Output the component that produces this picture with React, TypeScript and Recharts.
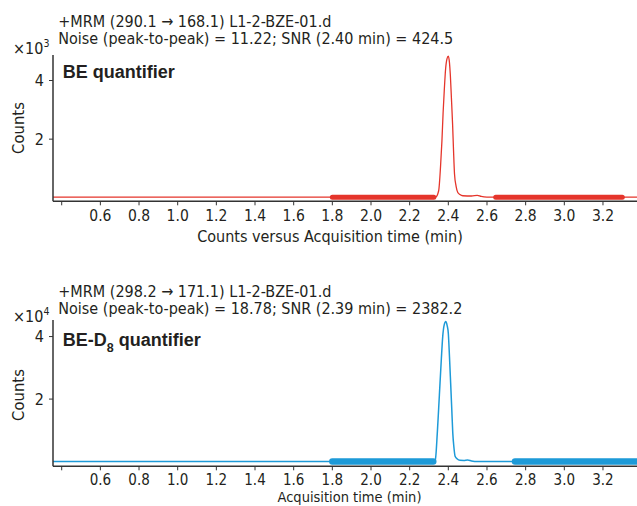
import React from 'react';
import { LineChart, Line, XAxis, YAxis } from 'recharts';

// ---------- data ----------
const xTicks = [0.4, 0.6, 0.8, 1.0, 1.2, 1.4, 1.6, 1.8, 2.0, 2.2, 2.4, 2.6, 2.8, 3.0, 3.2];
const topYTicks = [2000, 4000];
const bottomYTicks = [20000, 40000];

// BE quantifier trace (time min, counts)
const beTrace = [
  { t: 0.355, v: 20 }, { t: 1.0, v: 20 }, { t: 1.8, v: 20 }, { t: 2.3, v: 20 },
  { t: 2.335, v: 30 }, { t: 2.35, v: 240 }, { t: 2.36, v: 1100 }, { t: 2.367, v: 1950 },
  { t: 2.373, v: 2900 }, { t: 2.379, v: 3660 }, { t: 2.386, v: 4400 }, { t: 2.393, v: 4740 },
  { t: 2.4, v: 4830 }, { t: 2.406, v: 4600 }, { t: 2.41, v: 4230 }, { t: 2.416, v: 3400 },
  { t: 2.422, v: 2520 }, { t: 2.427, v: 1600 }, { t: 2.432, v: 810 }, { t: 2.44, v: 400 },
  { t: 2.449, v: 180 }, { t: 2.46, v: 110 }, { t: 2.475, v: 70 }, { t: 2.52, v: 60 },
  { t: 2.55, v: 85 }, { t: 2.57, v: 45 }, { t: 2.6, v: 25 }, { t: 3.0, v: 20 }, { t: 3.376, v: 20 },
];
const beNoiseA = [{ t: 1.8, v: 20 }, { t: 2.325, v: 20 }];
const beNoiseB = [{ t: 2.645, v: 20 }, { t: 3.3, v: 20 }];

// BE-D8 quantifier trace
const d8Trace = [
  { t: 0.355, v: 0 }, { t: 1.0, v: 0 }, { t: 1.8, v: 0 }, { t: 2.3, v: 0 },
  { t: 2.325, v: 100 }, { t: 2.333, v: 700 }, { t: 2.343, v: 9200 }, { t: 2.35, v: 17000 },
  { t: 2.357, v: 25100 }, { t: 2.364, v: 33000 }, { t: 2.371, v: 40000 }, { t: 2.379, v: 43800 },
  { t: 2.387, v: 44800 }, { t: 2.394, v: 43500 }, { t: 2.4, v: 41000 }, { t: 2.406, v: 33500 },
  { t: 2.412, v: 25100 }, { t: 2.418, v: 16500 }, { t: 2.423, v: 9200 }, { t: 2.429, v: 4500 },
  { t: 2.435, v: 1700 }, { t: 2.445, v: 900 }, { t: 2.46, v: 400 }, { t: 2.48, v: 350 },
  { t: 2.5, v: 500 }, { t: 2.52, v: 200 }, { t: 2.55, v: 0 }, { t: 3.0, v: 0 }, { t: 3.376, v: 0 },
];
const d8NoiseA = [{ t: 1.8, v: 0 }, { t: 2.322, v: 0 }];
const d8NoiseB = [{ t: 2.745, v: 0 }, { t: 3.376, v: 0 }];

// ---------- styles ----------
const FONT = '"DejaVu Sans Condensed", "Liberation Sans Narrow", sans-serif';
const BOLD = '"Liberation Sans", Arial, sans-serif';
const TXT = '#231f20';
const AXIS = '#333';
const RED = '#e5352b';
const BLUE = '#1d9ad8';

const xFmt = (v: number) => (Math.abs(v - 0.4) < 1e-6 ? '' : v.toFixed(1));

function Panel(props: {
  top: number; trace: any[]; bandA: any[]; bandB: any[]; color: string; bandWidth: number;
  domain: [number, number]; ticks: number[]; scale: number; lineWidth: number;
  xFont: number; xMargin: number;
}) {
  const { top, trace, bandA, bandB, color, bandWidth, domain, ticks, scale, lineWidth, xFont, xMargin } = props;
  return (
    <div style={{ position: 'absolute', left: 0, top }}>
      <LineChart width={637} height={250} margin={{ top: 55, right: 0, bottom: 0, left: 0 }}>
        <XAxis
          dataKey="t" type="number" domain={[0.355, 3.376]} allowDataOverflow ticks={xTicks}
          interval={0} tickSize={4} tickMargin={xMargin} height={48.7} tickFormatter={xFmt}
          axisLine={{ stroke: AXIS, strokeWidth: 1.5 }} tickLine={{ stroke: AXIS }}
          tick={{ fontSize: xFont, fontFamily: FONT, fill: TXT }}
        />
        <YAxis
          dataKey="v" type="number" domain={domain} allowDataOverflow ticks={ticks} width={53}
          tickSize={4} tickMargin={5} tickFormatter={(v: number) => String(v / scale)}
          axisLine={{ stroke: AXIS, strokeWidth: 1.5 }} tickLine={{ stroke: AXIS }}
          tick={{ fontSize: 16, fontFamily: FONT, fill: TXT }}
        />
        <Line data={trace} dataKey="v" type="monotone" stroke={color} strokeWidth={lineWidth} dot={false} isAnimationActive={false} />
        <Line data={bandA} dataKey="v" type="linear" stroke={color} strokeWidth={bandWidth} strokeLinecap="round" dot={false} isAnimationActive={false} />
        <Line data={bandB} dataKey="v" type="linear" stroke={color} strokeWidth={bandWidth} strokeLinecap="round" dot={false} isAnimationActive={false} />
      </LineChart>
    </div>
  );
}

export default function App() {
  const t = { fontFamily: FONT, fontSize: 16, fill: TXT };
  return (
    <div style={{ position: 'absolute', left: 0, top: 0, width: 637, height: 506, overflow: 'hidden', background: '#fff' }}>
      <Panel top={0} trace={beTrace} bandA={beNoiseA} bandB={beNoiseB} color={RED} bandWidth={5}
        domain={[-120, 4870]} ticks={topYTicks} scale={1000} lineWidth={1.3} xFont={15.5} xMargin={5} />
      <Panel top={265} trace={d8Trace} bandA={d8NoiseA} bandB={d8NoiseB} color={BLUE} bandWidth={6.5}
        domain={[-1500, 45300]} ticks={bottomYTicks} scale={10000} lineWidth={1.5} xFont={15} xMargin={4} />
      <svg width={637} height={506} style={{ position: 'absolute', left: 0, top: 0, pointerEvents: 'none' }}>
        {/* top panel */}
        <text x={58.3} y={26.7} {...t}>+MRM (290.1 → 168.1) L1-2-BZE-01.d</text>
        <text x={58.3} y={44.3} {...t}>Noise (peak-to-peak) = 11.22; SNR (2.40 min) = 424.5</text>
        <text x={13} y={54} {...t}>×10<tspan fontSize={10.5} dy={-7}>3</tspan></text>
        <text x={62.7} y={78} fontFamily={BOLD} fontWeight="bold" fontSize={18} fill={TXT}>BE quantifier</text>
        <text x={24} y={128} textAnchor="middle" transform="rotate(-90, 24, 128)" {...t} fontSize={16.5}>Counts</text>
        <text x={330} y={241.7} textAnchor="middle" {...t} fontSize={16}>Counts versus Acquisition time (min)</text>
        {/* bottom panel */}
        <text x={58.3} y={296.7} {...t}>+MRM (298.2 → 171.1) L1-2-BZE-01.d</text>
        <text x={58.3} y={314.3} {...t}>Noise (peak-to-peak) = 18.78; SNR (2.39 min) = 2382.2</text>
        <text x={13} y={322} {...t}>×10<tspan fontSize={10.5} dy={-7}>4</tspan></text>
        <text x={62.7} y={346} fontFamily={BOLD} fontWeight="bold" fontSize={18} fill={TXT}>
          BE-D<tspan fontSize={12.5} dy={5.5}>8</tspan><tspan dy={-5.5}> quantifier</tspan>
        </text>
        <text x={24} y={395} textAnchor="middle" transform="rotate(-90, 24, 395)" {...t} fontSize={16.5}>Counts</text>
        <text x={349.5} y={502.3} textAnchor="middle" {...t} fontSize={14.5}>Acquisition time (min)</text>
      </svg>
    </div>
  );
}
